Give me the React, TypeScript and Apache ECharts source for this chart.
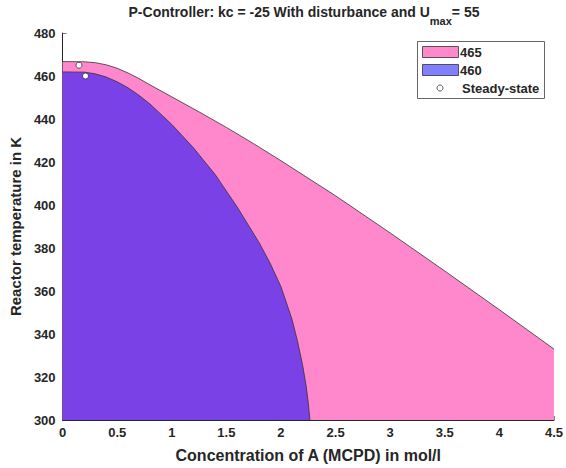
import React, { useEffect, useRef } from "react";
import * as echarts from "echarts";

// Boundary of the 465 K region (x: concentration, y: temperature)
const x465 = [0, 0.2, 0.3, 0.4, 0.5, 0.6, 0.7, 0.8, 1.0, 1.25, 1.5, 1.75, 2.0, 2.5, 3.0, 3.5, 4.0, 4.5];
const y465 = [466.7, 466.6, 466.2, 465.2, 463.6, 461.4, 458.8, 455.9, 450.3, 443.3, 436.1, 428.5, 420.6, 404.3, 387, 369.3, 351.3, 333];

// Boundary of the 460 K region
const x460 = [0, 0.2, 0.3, 0.4, 0.5, 0.6, 0.7, 0.8, 1.0, 1.2, 1.4, 1.6, 1.8, 1.9, 2.0, 2.1, 2.15, 2.2, 2.23, 2.25, 2.265];
const y460 = [461.9, 461.8, 461.0, 459.5, 457.3, 454.5, 451, 447, 437.5, 426.5, 414, 399, 382.5, 373, 362, 347, 337, 325, 316, 308, 300];

// Steady-state points
const ssX = [0.15, 0.21];
const ssY = [465, 460];

const xTicks = ["0", "0.5", "1", "1.5", "2", "2.5", "3", "3.5", "4", "4.5"];

const PINK = "#FF88CC";
const PURPLE = "#7A42E6";
const LEGEND_BLUE = "#8080FF";
const FONT = "Liberation Sans, Arial, Helvetica, sans-serif";
const TXT = "#262626";

export default function App() {
  const ref = useRef<HTMLDivElement>(null);
  useEffect(() => {
    if (!ref.current) return;
    const chart = echarts.init(ref.current, undefined, { renderer: "svg" });
    const pinkData = x465.map((x, i) => [x, y465[i]]);
    const purpleData = x460.map((x, i) => [x, y460[i]]);
    const ssData = ssX.map((x, i) => [x, ssY[i]]);
    chart.setOption({
      animation: false,
      backgroundColor: "#ffffff",
      grid: { left: 60, right: 12, top: 33, bottom: 48, containLabel: false },
      xAxis: {
        type: "value",
        min: 0,
        max: 4.5,
        interval: 0.5,
        name: "Concentration of A (MCPD) in mol/l",
        nameLocation: "middle",
        nameGap: 27,
        nameTextStyle: { fontFamily: FONT, fontWeight: "bold", fontSize: 16, color: TXT },
        axisLine: { show: true, onZero: false, lineStyle: { color: TXT, width: 1 } },
        axisTick: { show: true, inside: true, length: 4, lineStyle: { color: "rgba(38,38,38,0.6)" } },
        axisLabel: {
          fontFamily: FONT,
          fontWeight: "bold",
          fontSize: 13,
          color: TXT,
          margin: 6,
          formatter: (v: number) => xTicks[Math.round(v / 0.5)] ?? String(v),
        },
        splitLine: { show: false },
      },
      yAxis: {
        type: "value",
        min: 300,
        max: 480,
        interval: 20,
        name: "Reactor temperature in K",
        nameLocation: "middle",
        nameGap: 36,
        nameRotate: 90,
        nameTextStyle: { fontFamily: FONT, fontWeight: "bold", fontSize: 15, color: TXT },
        axisLine: { show: true, onZero: false, lineStyle: { color: TXT, width: 1 } },
        axisTick: { show: true, inside: true, length: 4, lineStyle: { color: "rgba(38,38,38,0.6)" } },
        axisLabel: { fontFamily: FONT, fontWeight: "bold", fontSize: 13, color: TXT, margin: 7 },
        splitLine: { show: false },
      },
      series: [
        {
          name: "465",
          type: "line",
          data: pinkData,
          showSymbol: false,
          symbol: "none",
          smooth: false,
          lineStyle: { color: "#333333", width: 0.8 },
          areaStyle: { color: PINK, opacity: 1, origin: "start" },
          z: 1,
        },
        {
          name: "460",
          type: "line",
          data: purpleData,
          showSymbol: false,
          symbol: "none",
          smooth: false,
          lineStyle: { color: "#333333", width: 0.8 },
          areaStyle: { color: PURPLE, opacity: 1, origin: "start" },
          z: 2,
        },
        {
          name: "Steady-state",
          type: "scatter",
          data: ssData,
          symbol: "circle",
          symbolSize: 6,
          itemStyle: { color: "#ffffff", borderColor: "#333333", borderWidth: 0.8, opacity: 1 },
          z: 5,
        },
      ],
      graphic: [
        {
          type: "text",
          x: 304,
          y: 5,
          style: {
            text: "{a|P-Controller: kc = -25 With disturbance and U}{s|max}{a|= 55}",
            align: "center",
            rich: {
              a: { fontFamily: FONT, fontWeight: "bold", fontSize: 14, lineHeight: 17, verticalAlign: "top", fill: TXT },
              s: { fontFamily: FONT, fontWeight: "bold", fontSize: 11, lineHeight: 12, padding: [10, 0, 0, 0], verticalAlign: "top", fill: TXT },
            },
          },
        },
        {
          type: "group",
          z: 100,
          children: [
            { type: "rect", shape: { x: 417.5, y: 41.5, width: 127, height: 57 }, style: { fill: "#ffffff", stroke: "#666666", lineWidth: 1 } },
            { type: "rect", shape: { x: 422.5, y: 46.5, width: 36, height: 11 }, style: { fill: PINK, stroke: "#333333", lineWidth: 0.8 } },
            { type: "rect", shape: { x: 422.5, y: 64.5, width: 36, height: 11 }, style: { fill: LEGEND_BLUE, stroke: "#333333", lineWidth: 0.8 } },
            { type: "circle", shape: { cx: 440, cy: 88, r: 3 }, style: { fill: "#ffffff", stroke: "#333333", lineWidth: 0.8 } },
            { type: "text", x: 460, y: 52, style: { text: "465", fontFamily: FONT, fontWeight: "bold", fontSize: 13, fill: TXT, verticalAlign: "middle" } },
            { type: "text", x: 460, y: 70, style: { text: "460", fontFamily: FONT, fontWeight: "bold", fontSize: 13, fill: TXT, verticalAlign: "middle" } },
            { type: "text", x: 462, y: 88, style: { text: "Steady-state", fontFamily: FONT, fontWeight: "bold", fontSize: 13, fill: TXT, verticalAlign: "middle" } },
          ],
        },
      ],
    });
    return () => chart.dispose();
  }, []);
  return <div ref={ref} style={{ width: 566, height: 468, position: "absolute", left: 0, top: 0 }} />;
}
